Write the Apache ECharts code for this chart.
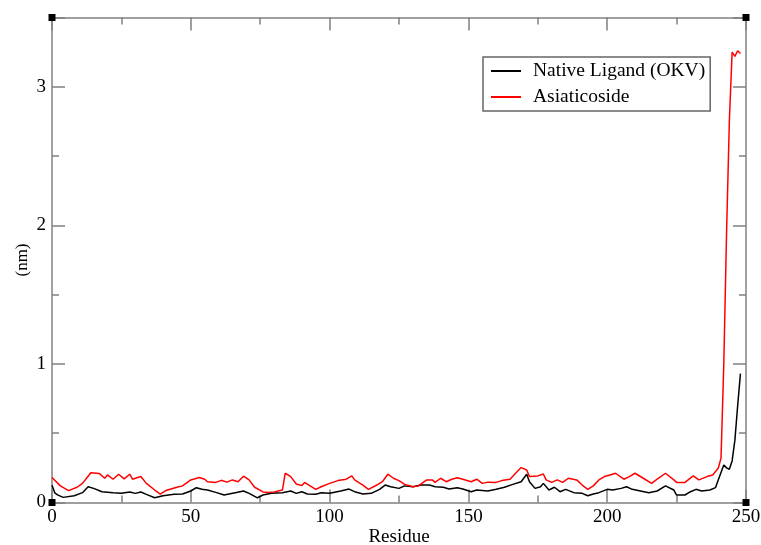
<!DOCTYPE html>
<html>
<head>
<meta charset="utf-8">
<script src="https://cdn.jsdelivr.net/npm/echarts@6/dist/echarts.min.js"></script>
<style>
  html,body{margin:0;padding:0;background:#fff}
  #main{width:761px;height:545px}
</style>
</head>
<body>
<div id="main"></div>
<script>
// Native Ligand (OKV) - residue / rmsf (nm)
var nativeRes = [0,1,2,4,8,11,13,15,18,22,25,28,30,32,34,37,40,44,47,50,52,54,56,59,62,66,69,71,74,76,79,83,86,88,90,92,95,97,100,104,107,109,112,115,118,120,122,125,127,130,133,136,138,141,143,146,148,151,153,157,160,163,166,169,171,172,174,176,177,179,181,183,185,188,191,193,195,197,200,202,205,207,209,212,215,218,221,224,225,228,230,232,234,237,239,240,242,243,244,245,246,247,248]
var nativeVal = [0.125,0.07,0.055,0.037,0.049,0.071,0.114,0.102,0.078,0.071,0.066,0.076,0.066,0.076,0.059,0.034,0.049,0.059,0.061,0.083,0.107,0.095,0.09,0.073,0.054,0.071,0.083,0.066,0.034,0.054,0.066,0.071,0.083,0.066,0.078,0.061,0.059,0.071,0.066,0.083,0.097,0.078,0.061,0.066,0.095,0.126,0.114,0.102,0.12,0.114,0.126,0.126,0.114,0.11,0.097,0.107,0.097,0.078,0.09,0.083,0.095,0.11,0.131,0.15,0.204,0.15,0.102,0.114,0.138,0.09,0.11,0.078,0.095,0.071,0.066,0.049,0.061,0.071,0.095,0.09,0.102,0.114,0.095,0.083,0.071,0.083,0.12,0.09,0.054,0.054,0.078,0.095,0.083,0.09,0.107,0.163,0.27,0.25,0.24,0.3,0.45,0.7,0.93]

// Asiaticoside
var asiaRes = [0,1,3,6,9,11,13,14,17,19,20,22,24,26,28,29,32,34,37,39,41,45,47,50,53,55,56,59,61,63,65,67,69,71,73,76,78,80,83,84,86,88,90,91,93,95,97,100,103,106,108,109,112,114,117,119,121,123,125,127,130,132,135,137,138,140,142,144,146,148,151,153,155,157,160,162,165,167,169,171,172,175,177,178,180,182,184,186,189,191,193,195,197,199,201,203,206,208,210,213,216,218,221,224,225,228,231,233,236,238,240,241,242,243,244,245,246,247,248]
var asiaVal = [0.18,0.16,0.12,0.086,0.11,0.138,0.19,0.215,0.21,0.175,0.199,0.168,0.204,0.17,0.204,0.168,0.187,0.138,0.09,0.061,0.086,0.11,0.12,0.163,0.18,0.168,0.15,0.145,0.16,0.147,0.163,0.15,0.19,0.163,0.11,0.076,0.073,0.076,0.09,0.211,0.187,0.134,0.122,0.145,0.12,0.095,0.114,0.138,0.158,0.168,0.192,0.163,0.126,0.095,0.126,0.15,0.204,0.175,0.158,0.131,0.114,0.12,0.163,0.163,0.145,0.175,0.15,0.168,0.178,0.168,0.15,0.168,0.138,0.147,0.145,0.158,0.168,0.211,0.252,0.235,0.187,0.192,0.206,0.163,0.145,0.163,0.145,0.175,0.163,0.126,0.095,0.12,0.163,0.187,0.199,0.211,0.168,0.187,0.211,0.175,0.138,0.168,0.211,0.163,0.145,0.145,0.192,0.163,0.187,0.199,0.247,0.32,1.0,1.95,2.75,3.25,3.22,3.26,3.24]

var xTicks = [0,50,100,150,200,250]
var yTicks = [0,1,2,3]

function pairs(xs,ys){
    var out = []
    for(var i=0;i<xs.length;i++){ out.push([xs[i],ys[i]]) }
    return out
}

var serif = 'Liberation Serif'
var axisGray = '#808080'

var baseX = {
    type:'value', min:0, max:250, interval:50,
    axisLine:{show:true,onZero:false,lineStyle:{color:axisGray,width:1.5}},
    axisTick:{show:true,inside:true,length:13,lineStyle:{color:axisGray,width:1.5}},
    minorTick:{show:true,splitNumber:2,length:7,lineStyle:{color:axisGray,width:1.5}},
    splitLine:{show:false}
}
var baseY = {
    type:'value', min:0, max:3.5, interval:1,
    axisLine:{show:true,onZero:false,lineStyle:{color:axisGray,width:1.5}},
    axisTick:{show:true,inside:true,length:13,lineStyle:{color:axisGray,width:1.5}},
    minorTick:{show:true,splitNumber:2,length:7,lineStyle:{color:axisGray,width:1.5}},
    splitLine:{show:false}
}

var chart = echarts.init(document.getElementById('main'))

var corners = [[52,17.5],[746,17.5],[52,502.5],[746,502.5]].map(function(p){
    return {type:'rect',shape:{x:p[0]-3.5,y:p[1]-3.5,width:7,height:7},style:{fill:'#000'},z:100}
})

chart.setOption({
    backgroundColor:'#fff',
    animation:false,
    grid:{left:52,right:15,top:17.5,bottom:42.5,outerBoundsMode:'none',containLabel:false},
    legend:{
        left:483, top:57,
        orient:'vertical',
        icon:'rect', itemWidth:30, itemHeight:2, itemGap:6,
        borderColor:'#666', borderWidth:1.5,
        padding:[4,5,4,8],
        textStyle:{fontFamily:serif,fontSize:19.5,color:'#000',padding:[0,0,0,7]},
        data:['Native Ligand (OKV)','Asiaticoside']
    },
    xAxis:[
        Object.assign({}, baseX, {
            position:'bottom',
            name:'Residue', nameLocation:'middle', nameGap:25, nameMoveOverlap:false,
            nameTextStyle:{fontFamily:serif,fontSize:19,color:'#000'},
            axisLabel:{fontFamily:serif,fontSize:19,color:'#000',margin:5,
                formatter:function(v){ return xTicks.indexOf(v) >= 0 ? v : '' }}
        }),
        Object.assign({}, baseX, {position:'top', axisLabel:{show:false}})
    ],
    yAxis:[
        Object.assign({}, baseY, {
            position:'left',
            name:'(nm)', nameLocation:'middle', nameGap:21, nameRotate:90, nameMoveOverlap:false,
            nameTextStyle:{fontFamily:serif,fontSize:17,color:'#000'},
            axisLabel:{fontFamily:serif,fontSize:19,color:'#000',margin:6,
                formatter:function(v){ return yTicks.indexOf(v) >= 0 ? v : '' }}
        }),
        Object.assign({}, baseY, {position:'right', axisLabel:{show:false}})
    ],
    series:[
        {
            name:'Native Ligand (OKV)', type:'line',
            xAxisIndex:0, yAxisIndex:0,
            showSymbol:false, symbol:'none',
            color:'#000',
            lineStyle:{color:'#000',width:1.5},
            data:pairs(nativeRes,nativeVal)
        },
        {
            name:'Asiaticoside', type:'line',
            xAxisIndex:0, yAxisIndex:0,
            showSymbol:false, symbol:'none',
            color:'#ff0000',
            lineStyle:{color:'#ff0000',width:1.5},
            data:pairs(asiaRes,asiaVal)
        }
    ],
    graphic:corners
})
</script>
</body>
</html>
